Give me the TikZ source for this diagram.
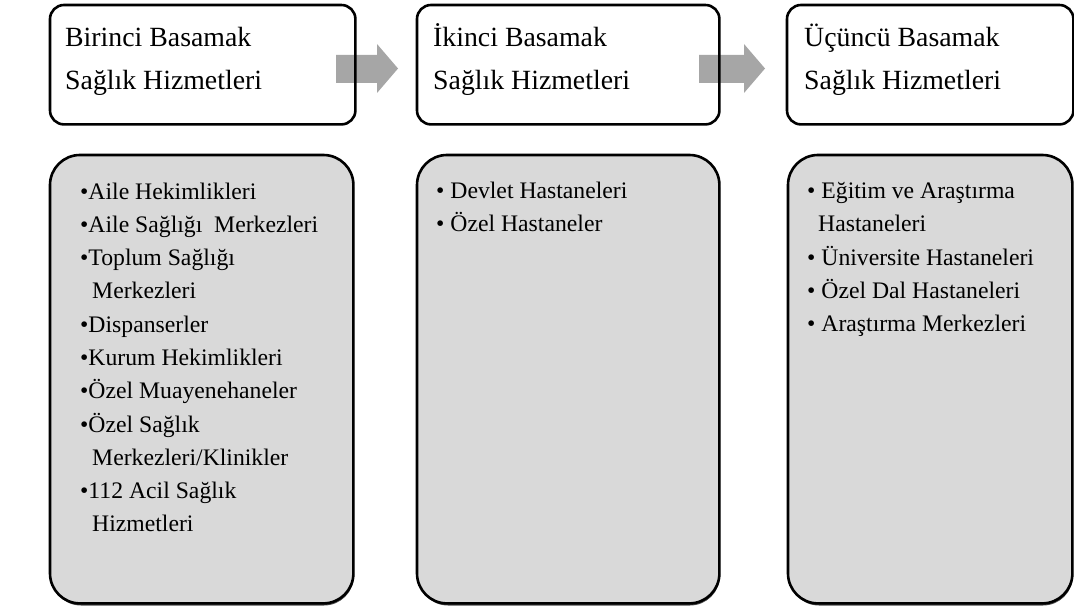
\documentclass[tikz,border=0pt]{standalone}
\usepackage{fontspec}
\setmainfont{Liberation Serif}
\definecolor{boxgrey}{HTML}{D9D9D9}
\definecolor{arrowgrey}{HTML}{A6A6A6}
\begin{document}
\begin{tikzpicture}[x=1pt,y=-1pt,
  headfill/.style={fill=white, rounded corners=14pt, minimum width=305pt, minimum height=119pt, anchor=north west, inner sep=0pt},
  listfill/.style={fill=boxgrey, rounded corners=30pt, minimum height=448pt, anchor=north west, inner sep=0pt},
  border/.style={draw=black, line width=2.6pt},
  blockarrow/.style={fill=arrowgrey},
  headtext/.style={anchor=base west, inner sep=0pt, font=\fontsize{27.8}{43}\selectfont},
  listtext/.style={anchor=base west, inner sep=0pt, font=\fontsize{23.7}{33.3}\selectfont},
  listtextb/.style={anchor=base west, inner sep=0pt, font=\fontsize{23.7}{33.5}\selectfont}]
\useasboundingbox (0,0) rectangle (1074,615);
% top boxes
\node[headfill] (h1) at (50,5) {};
\node[headfill, minimum width=302pt] (h2) at (417,5) {};
\node[headfill, minimum width=286pt] (h3) at (787,5) {};
% bottom boxes (shadow, then fill)
\begin{scope}[shift={(1,2.5)}]
\fill[black!70, rounded corners=30pt] (50,155) rectangle (353,603);
\fill[black!70, rounded corners=30pt] (417,155) rectangle (719,603);
\fill[black!70, rounded corners=30pt] (788,155) rectangle (1072,603);
\end{scope}
\node[listfill, minimum width=303pt] (l1) at (50,155) {};
\node[listfill, minimum width=302pt] (l2) at (417,155) {};
\node[listfill, minimum width=284pt] (l3) at (788,155) {};
% arrows
\fill[blockarrow] (336,55) -- (377,55) -- (377,44) -- (398,68.5) -- (377,93) -- (377,83) -- (336,83) -- cycle;
\fill[blockarrow] (699,55) -- (744,55) -- (744,44) -- (765,68.5) -- (744,93) -- (744,83) -- (699,83) -- cycle;
% borders
\foreach \n/\r in {h1/14pt,h2/14pt,h3/14pt,l1/30pt,l2/30pt,l3/30pt}
  \draw[border, rounded corners=\r] (\n.north west) rectangle (\n.south east);
% head texts
\node[headtext] (t1) at (65,47) {\parbox[t]{280pt}{Birinci Basamak\\Sağlık Hizmetleri}};
\node[headtext] (t2) at (433,47) {\parbox[t]{280pt}{İkinci Basamak\\Sağlık Hizmetleri}};
\node[headtext] (t3) at (804,47) {\parbox[t]{260pt}{Üçüncü Basamak\\Sağlık Hizmetleri}};
% list texts
\node[listtext] (x1) at (80,199) {\parbox[t]{270pt}{\raggedright
\textbullet Aile Hekimlikleri\\
\textbullet Aile Sağlığı\ \ Merkezleri\\
\textbullet Toplum Sağlığı\\
\hspace*{12pt}Merkezleri\\
\textbullet Dispanserler\\
\textbullet Kurum Hekimlikleri\\
\textbullet Özel Muayenehaneler\\
\textbullet Özel Sağlık\\
\hspace*{12pt}Merkezleri/Klinikler\\
\textbullet 112 Acil Sağlık\\
\hspace*{12pt}Hizmetleri}};
\node[listtextb] (x2) at (436,198) {\parbox[t]{270pt}{\raggedright
\textbullet\ Devlet Hastaneleri\\
\textbullet\ Özel Hastaneler}};
\node[listtextb] (x3) at (807,198) {\parbox[t]{262pt}{\raggedright
\textbullet\ Eğitim ve Araştırma\\
\hspace*{11pt}Hastaneleri\\
\textbullet\ Üniversite Hastaneleri\\
\textbullet\ Özel Dal Hastaneleri\\
\textbullet\ Araştırma Merkezleri}};
\end{tikzpicture}
\end{document}
